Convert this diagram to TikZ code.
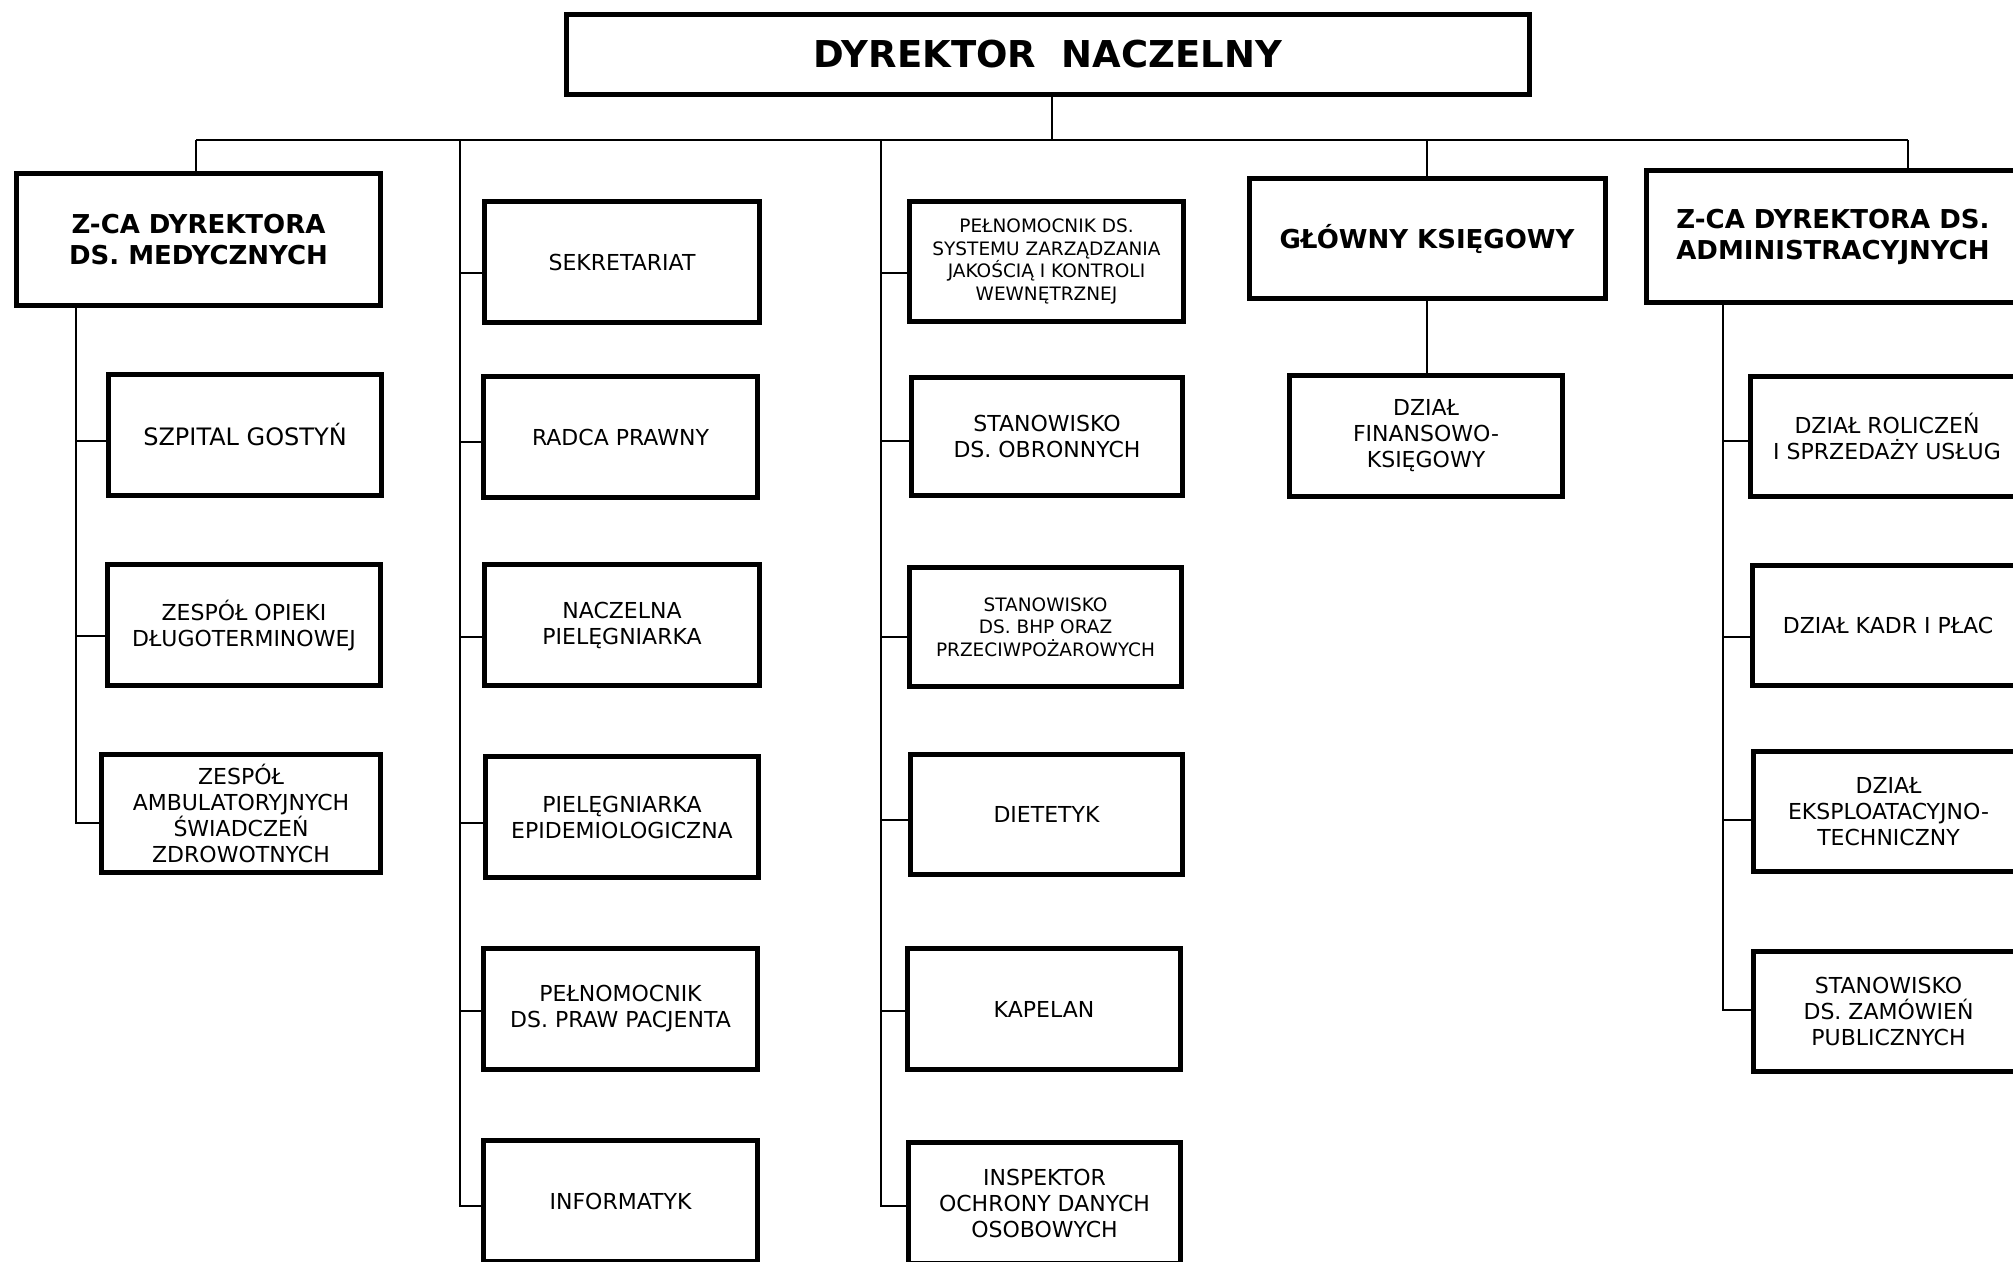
\documentclass[tikz,border=0pt]{standalone}
\usepackage{fontspec}
\setmainfont{DejaVu Sans}
\newcommand{\fsreg}{\fontsize{22}{26}\selectfont}
\newcommand{\fsbigreg}{\fontsize{24}{28}\selectfont}
\newcommand{\fssmall}{\fontsize{18.5}{22.5}\selectfont}
\newcommand{\fshead}{\bfseries\fontsize{26}{31}\selectfont}
\newcommand{\fstitle}{\bfseries\fontsize{37}{42}\selectfont}
\begin{document}
\begin{tikzpicture}[x=1pt,y=-1pt,
  box/.style={draw=black, line width=5pt, align=center, inner sep=0pt, font=\fsreg, fill=white},
  sz/.style 2 args={minimum width=#1pt, minimum height=#2pt},
  wire/.style={line width=1.8pt, draw=black}]
\useasboundingbox (0,0) rectangle (2013,1261);
\fill[white] (0,0) rectangle (2013,1261);

% top
\node[box, sz={963}{80}, font=\fstitle] (dir) at (1048,54.5) {DYREKTOR\ \ NACZELNY};

% column 1
\node[box, sz={364}{132}, font=\fshead] (zmed) at (198.5,239.5) {Z-CA DYREKTORA\\DS. MEDYCZNYCH};
\node[box, sz={273}{121}, font=\fsbigreg] (szpital) at (245,435) {SZPITAL GOSTYŃ};
\node[box, sz={273}{121}] (zopieki) at (244,625) {ZESPÓŁ OPIEKI\\DŁUGOTERMINOWEJ};
\node[box, sz={279}{118}] (zamb) at (241,813.5) {ZESPÓŁ\\AMBULATORYJNYCH\\ŚWIADCZEŃ\\ZDROWOTNYCH};

% column 2
\node[box, sz={275}{121}] (sekr) at (622,262) {SEKRETARIAT};
\node[box, sz={274}{121}] (radca) at (620.5,437) {RADCA PRAWNY};
\node[box, sz={275}{121}] (naczelna) at (622,625) {NACZELNA\\PIELĘGNIARKA};
\node[box, sz={273}{121}] (epid) at (622,817) {PIELĘGNIARKA\\EPIDEMIOLOGICZNA};
\node[box, sz={274}{121}] (ppp) at (620.5,1009) {PEŁNOMOCNIK\\DS. PRAW PACJENTA};
\node[box, sz={274}{121}] (inform) at (620.5,1201) {INFORMATYK};

% column 3
\node[box, sz={274}{120}, font=\fssmall] (pelsys) at (1046.5,261.5) {PEŁNOMOCNIK DS.\\SYSTEMU ZARZĄDZANIA\\JAKOŚCIĄ I KONTROLI\\WEWNĘTRZNEJ};
\node[box, sz={271}{118}] (obron) at (1047,436.5) {STANOWISKO\\DS. OBRONNYCH};
\node[box, sz={272}{119}, font=\fssmall] (bhp) at (1045.5,627) {STANOWISKO\\DS. BHP ORAZ\\PRZECIWPOŻAROWYCH};
\node[box, sz={272}{120}] (diet) at (1046.5,814.5) {DIETETYK};
\node[box, sz={273}{121}] (kapelan) at (1044,1009) {KAPELAN};
\node[box, sz={272}{121}] (inspektor) at (1044.5,1203) {INSPEKTOR\\OCHRONY DANYCH\\OSOBOWYCH};

% column 4
\node[box, sz={356}{120}, font=\fshead] (gksieg) at (1427,238.5) {GŁÓWNY KSIĘGOWY};
\node[box, sz={273}{121}] (dzfin) at (1426,436) {DZIAŁ\\FINANSOWO-\\KSIĘGOWY};

% column 5
\node[box, sz={373}{132}, font=\fshead] (zadm) at (1833,236.5) {Z-CA DYREKTORA DS.\\ADMINISTRACYJNYCH};
\node[box, sz={273}{120}] (dzrol) at (1887,436.5) {DZIAŁ ROLICZEŃ\\I SPRZEDAŻY USŁUG};
\node[box, sz={271}{120}] (kadr) at (1888,625.5) {DZIAŁ KADR I PŁAC};
\node[box, sz={270}{120}] (eksp) at (1888.5,811.5) {DZIAŁ\\EKSPLOATACYJNO-\\TECHNICZNY};
\node[box, sz={270}{120}] (zamow) at (1888.5,1011.5) {STANOWISKO\\DS. ZAMÓWIEŃ\\PUBLICZNYCH};

% bus coordinates
\coordinate (busL) at (196,140);
\coordinate (busR) at (1908,140);
\coordinate (busD) at (1052,140);
\coordinate (c1) at (76,0);
\coordinate (c2) at (460,140);
\coordinate (c3) at (881,140);
\coordinate (c5) at (1723,0);

% main bus
\draw[wire] (busL) -- (busR);
\draw[wire] (dir.south -| busD) -- (busD);
\draw[wire] (busL) -- (zmed.north -| busL);
\draw[wire] (gksieg.north |- busL) -- (gksieg.north);
\draw[wire] (gksieg.south) -- (gksieg.south |- dzfin.north);
\draw[wire] (busR) -- (zadm.north -| busR);

% column 1 spine
\draw[wire] (zmed.south -| c1) -- ([yshift=-9.5pt]zamb.west -| c1) -- ([yshift=-9.5pt]zamb.west);
\draw[wire] ([yshift=-6pt]szpital.west -| c1) -- ([yshift=-6pt]szpital.west);
\draw[wire] ([yshift=-11pt]zopieki.west -| c1) -- ([yshift=-11pt]zopieki.west);

% column 2 spine
\draw[wire] (c2) -- ([yshift=-5pt]inform.west -| c2) -- ([yshift=-5pt]inform.west);
\draw[wire] ([yshift=-11pt]sekr.west -| c2) -- ([yshift=-11pt]sekr.west);
\draw[wire] ([yshift=-5pt]radca.west -| c2) -- ([yshift=-5pt]radca.west);
\draw[wire] ([yshift=-12pt]naczelna.west -| c2) -- ([yshift=-12pt]naczelna.west);
\draw[wire] ([yshift=-6pt]epid.west -| c2) -- ([yshift=-6pt]epid.west);
\draw[wire] ([yshift=-2pt]ppp.west -| c2) -- ([yshift=-2pt]ppp.west);

% column 3 spine
\draw[wire] (c3) -- ([yshift=-3pt]inspektor.west -| c3) -- ([yshift=-3pt]inspektor.west);
\draw[wire] ([yshift=-11.5pt]pelsys.west -| c3) -- ([yshift=-11.5pt]pelsys.west);
\draw[wire] ([yshift=-4.5pt]obron.west -| c3) -- ([yshift=-4.5pt]obron.west);
\draw[wire] ([yshift=-10pt]bhp.west -| c3) -- ([yshift=-10pt]bhp.west);
\draw[wire] ([yshift=-5.5pt]diet.west -| c3) -- ([yshift=-5.5pt]diet.west);
\draw[wire] ([yshift=-2pt]kapelan.west -| c3) -- ([yshift=-2pt]kapelan.west);

% column 5 spine
\draw[wire] (zadm.south -| c5) -- ([yshift=1.5pt]zamow.west -| c5) -- ([yshift=1.5pt]zamow.west);
\draw[wire] ([yshift=-4.5pt]dzrol.west -| c5) -- ([yshift=-4.5pt]dzrol.west);
\draw[wire] ([yshift=-11.5pt]kadr.west -| c5) -- ([yshift=-11.5pt]kadr.west);
\draw[wire] ([yshift=-8.5pt]eksp.west -| c5) -- ([yshift=-8.5pt]eksp.west);
\end{tikzpicture}
\end{document}
